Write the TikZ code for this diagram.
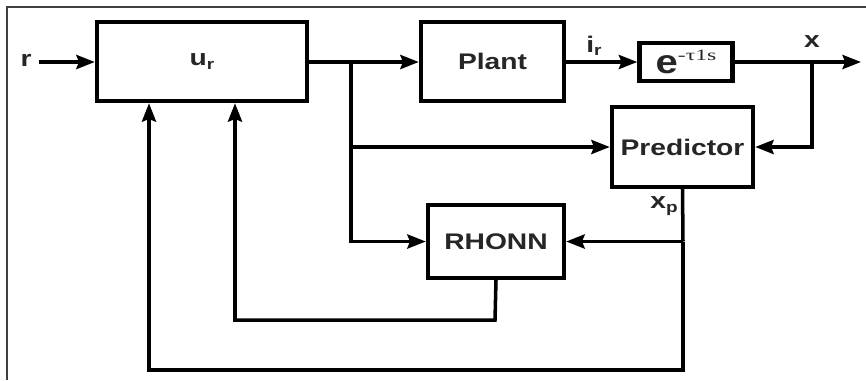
\documentclass[tikz,border=0pt]{standalone}
\usepackage{fontspec}
\usepackage{graphicx}
\setmainfont{Liberation Sans}
\newfontfamily\serifgreek{Liberation Serif}
\usetikzlibrary{arrows.meta}
\newcommand\wide[1]{\scalebox{1.35}[1.08]{#1}}
\tikzset{
  blk/.style={draw, line width=2.5pt, rectangle, inner sep=0pt, font=\fontsize{11.9}{12}\selectfont\bfseries, text=black!85},
  conn/.style={line width=2pt, -{Stealth[length=10.5pt,width=8pt,inset=1.5pt]}},
  wire/.style={line width=2pt},
  lbl/.style={inner sep=0pt, font=\fontsize{11.9}{12}\selectfont\bfseries, text=black!85},
  frame/.style={line width=0.8pt, draw=black!75}
}
\begin{document}
\begin{tikzpicture}[x=0.02cm, y=-0.02cm]
\useasboundingbox (0,0) rectangle (866,380);
\draw[frame] (7,380) -- (7,7) -- (866,7);
% blocks
\node[blk, minimum width=210*0.02cm, minimum height=79*0.02cm] (ur) at (202,61.5) {\wide{u\raisebox{-0.3ex}{\fontsize{8}{9}\selectfont r}}};
\node[blk, minimum width=143*0.02cm, minimum height=79*0.02cm] (plant) at (492.5,61.5) {\wide{Plant}};
\node[blk, minimum width=93*0.02cm, minimum height=38*0.02cm] (delay) at (686,62) {\scalebox{1.2}[1]{\fontsize{19}{19}\selectfont e}\raisebox{1.1ex}{\scalebox{1.5}[1]{\serifgreek\fontsize{9}{9}\selectfont\mdseries -τ1s}}};
\node[blk, minimum width=141*0.02cm, minimum height=80*0.02cm] (pred) at (682.5,147) {\wide{Predictor}};
\node[blk, minimum width=136*0.02cm, minimum height=73*0.02cm] (rhonn) at (496,241.5) {\wide{RHONN}};
% labels
\node[lbl] (r) at (26,60) {\wide{r}};
\node[lbl] (ir) at (594,46) {\wide{i\raisebox{-0.3ex}{\fontsize{8}{9}\selectfont r}}};
\node[lbl] (xl) at (812,42) {\wide{x}};
\node[lbl] (xp) at (664,206) {\wide{x\raisebox{-0.4ex}{\fontsize{8}{9}\selectfont p}}};
% coordinates
\coordinate (rs) at (39,62);
\coordinate (b1) at (351,62);
\coordinate (b2) at (812,62);
\coordinate (xout) at (861,62);
\coordinate (b3) at (683,241.5);
\coordinate (c1) at (683,370);
\coordinate (c2) at (149,370);
\coordinate (d1) at (495,320);
\coordinate (d2) at (235,320);
% connectors
\draw[conn] (rs) -- (ur.west |- rs);
\draw[conn] (ur.east |- b1) -- (plant.west |- b1);
\draw[conn] (plant.east |- delay) -- (delay.west);
\draw[conn] (delay.east) -- (xout);
\draw[conn] (b2) |- (pred.east);
\draw[conn] (b1) |- (pred.west);
\draw[conn] (b1) |- (rhonn.west);
\draw[wire] (pred.south) -- (b3);
\draw[conn] (b3) -- (rhonn.east);
\draw[conn] (b3) -- (c1) -- (c2) -- (c2 |- ur.south);
\draw[conn] (rhonn.south) -- (d1) -- (d2) -- (d2 |- ur.south);
\end{tikzpicture}
\end{document}
